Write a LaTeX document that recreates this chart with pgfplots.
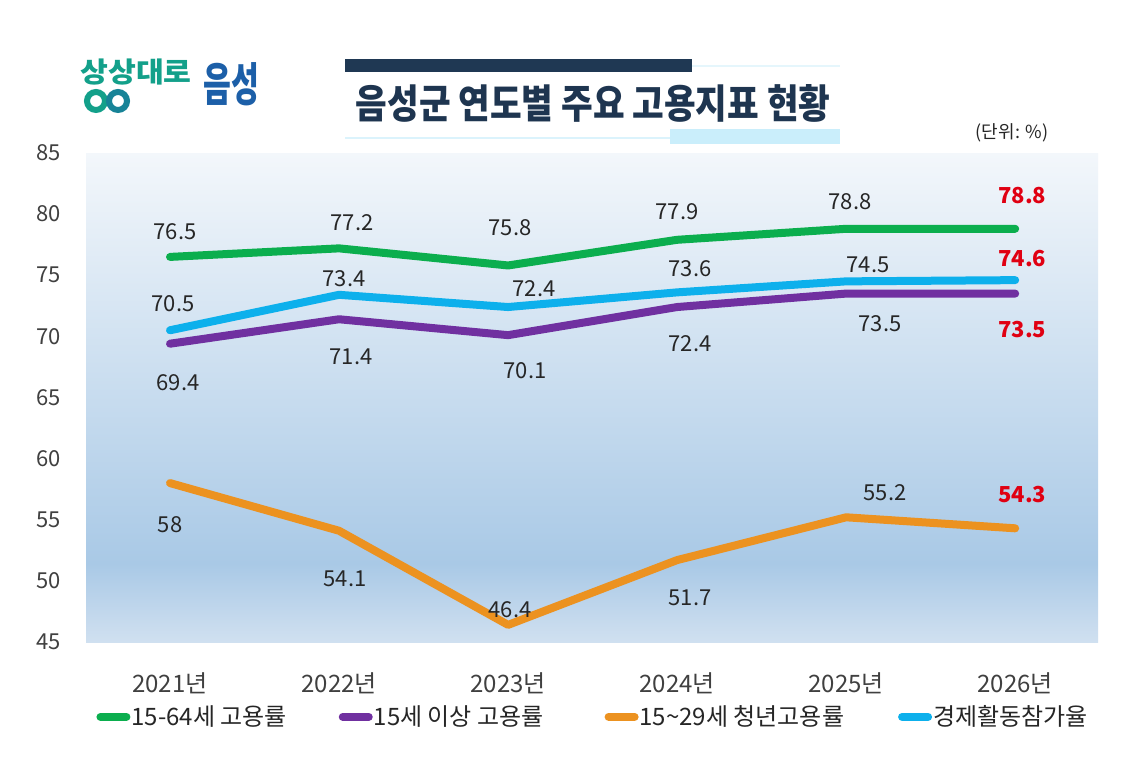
\documentclass[border=0pt]{standalone}
\usepackage{fontspec}
\usepackage{graphicx}
\setmainfont{Noto Sans CJK KR}
\usepackage{pgfplots}
\pgfplotsset{compat=1.18}
\definecolor{cGreen}{HTML}{0BAE4E}
\definecolor{cPurple}{HTML}{7030A0}
\definecolor{cOrange}{HTML}{EC9220}
\definecolor{cCyan}{HTML}{0DB0EC}
\definecolor{cRed}{HTML}{E00012}
\definecolor{cText}{HTML}{262626}
\definecolor{cTick}{HTML}{404040}
\definecolor{navy}{HTML}{1F3853}
\definecolor{titleC}{HTML}{1E3550}
\definecolor{bgtop}{HTML}{F3F7FB}
\definecolor{bgmid}{HTML}{A9C9E6}
\definecolor{bgbot}{HTML}{D0E0F0}
\definecolor{teal}{HTML}{13A08A}
\definecolor{logoBlue}{HTML}{1C5FA8}
\pgfdeclareverticalshading{plotbg}{100bp}{color(0bp)=(bgbot); color(25bp)=(bgbot); color(33bp)=(bgmid); color(75bp)=(bgtop); color(100bp)=(bgtop)}
\newcommand\fs{\fontsize{11}{13}\selectfont}
\newcommand\fl{\fontsize{12}{14}\selectfont}
\newcommand\lb[5]{\node[font=\fs, text=cText, inner sep=0pt] at ([xshift={(#3)*0.5pt}, yshift={(#4)*(-0.5pt)}]axis cs:#1,#2) {#5};}
\newcommand\lr[4]{\node[font=\fs\bfseries, text=cRed, inner sep=0pt] at ([xshift={(#3)*0.5pt}, yshift={(#4)*(-0.5pt)}]axis cs:5,#1) {#2};}
\begin{document}
\begin{tikzpicture}
\useasboundingbox (0,0) rectangle (571.5pt,379.5pt);
\fill[white] (0,0) rectangle (571.5pt,379.5pt);
\begin{scope}[x=0.5pt,y=-0.5pt,shift={(0pt,379.5pt)}]
  % title decoration
  \fill[navy] (345,59) rectangle (692,72);
  \draw[color=bgtop!60!cCyan!25, line width=1pt] (692,66) -- (840,66);
  \draw[color=cCyan!15, line width=1pt] (345,138) -- (840,138);
  \fill[cCyan!22] (670,129) rectangle (840,144);
  \node[font=\fontsize{20}{24}\selectfont\bfseries, text=titleC, inner sep=0pt] at (593,103) {\scalebox{0.86}[1]{음성군 연도별 주요 고용지표 현황}};
  % logo
  \node[font=\fontsize{14}{16}\selectfont\bfseries, text=teal, inner sep=0pt, anchor=west] at (80,72) {\scalebox{1.08}[1]{상상대로}};
  \draw[teal, line width=3pt] (96,101) circle (9);
  \draw[teal!55!logoBlue, line width=3pt] (118,101) circle (9);
  \node[font=\fontsize{21}{24}\selectfont\bfseries, text=logoBlue, inner sep=0pt, anchor=west] at (203,84) {\scalebox{0.72}[1.1]{음성}};
  % unit
  \node[font=\fontsize{9}{11}\selectfont, text=cText, inner sep=0pt] at (1012,133) {(단위: \%)};
\end{scope}
\begin{axis}[
  at={(43pt,58.5pt)}, anchor=south west,
  scale only axis, width=506pt, height=244.5pt,
  xmin=-0.497, xmax=5.49, ymin=45, ymax=85,
  ytick={45,50,...,85},
  xtick={0,1,2,3,4,5},
  xticklabels={2021년,2022년,2023년,2024년,2025년,2026년},
  axis line style={draw=none},
  major tick length=0pt,
  clip=false,
  /pgf/number format/assume math mode=true,
  tick label style={font=\fs, text=cTick},
  yticklabel style={anchor=east, xshift=-9pt},
  xticklabel style={anchor=north, yshift=-12pt, font=\fl},
  axis background/.style={shade, shading=plotbg, draw=none},
  every axis plot/.append style={line width=4pt, line cap=round, line join=round},
  legend columns=4,
  legend style={at={(0.004,-0.153)}, anchor=west, draw=none, fill=none, font=\fl, text=cText,
    nodes={inner xsep=0.5pt}},
  legend image code/.code={\draw[#1, line width=4pt, line cap=round] (2pt,0pt) -- (15pt,0pt);},
]
\addplot[cGreen] coordinates {(0,76.5) (1,77.2) (2,75.8) (3,77.9) (4,78.8) (5,78.8)};
\addlegendentry{15-64세 고용률\hspace*{25.5pt}\null}
\addplot[cPurple] coordinates {(0,69.4) (1,71.4) (2,70.1) (3,72.4) (4,73.5) (5,73.5)};
\addlegendentry{15세 이상 고용률\hspace*{30pt}\null}
\addplot[cOrange] coordinates {(0,58) (1,54.1) (2,46.4) (3,51.7) (4,55.2) (5,54.3)};
\addlegendentry{15\char`~29세 청년고용률\hspace*{26.5pt}\null}
\addplot[cCyan] coordinates {(0,70.5) (1,73.4) (2,72.4) (3,73.6) (4,74.5) (5,74.6)};
\addlegendentry{경제활동참가율}
% green labels
\lb{0}{76.5}{5}{-25}{76.5}
\lb{1}{77.2}{13}{-26}{77.2}
\lb{2}{75.8}{2}{-38}{75.8}
\lb{3}{77.9}{0}{-28}{77.9}
\lb{4}{78.8}{4}{-27}{78.8}
\lr{78.8}{78.8}{7}{-33}
% cyan labels
\lb{0}{70.5}{3}{-27}{70.5}
\lb{1}{73.4}{5}{-16}{73.4}
\lb{2}{72.4}{26}{-18}{72.4}
\lb{3}{73.6}{13}{-24}{73.6}
\lb{4}{74.5}{22}{-17}{74.5}
\lr{74.6}{74.6}{7}{-22}
% purple labels
\lb{0}{69.4}{8}{39}{69.4}
\lb{1}{71.4}{12}{38}{71.4}
\lb{2}{70.1}{17}{36}{70.1}
\lb{3}{72.4}{13}{37}{72.4}
\lb{4}{73.5}{34}{30}{73.5}
\lr{73.5}{73.5}{7}{36}
% orange labels
\lb{0}{58}{0}{42}{58}
\lb{1}{54.1}{6}{48}{54.1}
\lb{2}{46.4}{2}{-15}{46.4}
\lb{3}{51.7}{13}{38}{51.7}
\lb{4}{55.2}{39}{-25}{55.2}
\lr{54.3}{54.3}{7}{-34}
\end{axis}
\end{tikzpicture}
\end{document}
